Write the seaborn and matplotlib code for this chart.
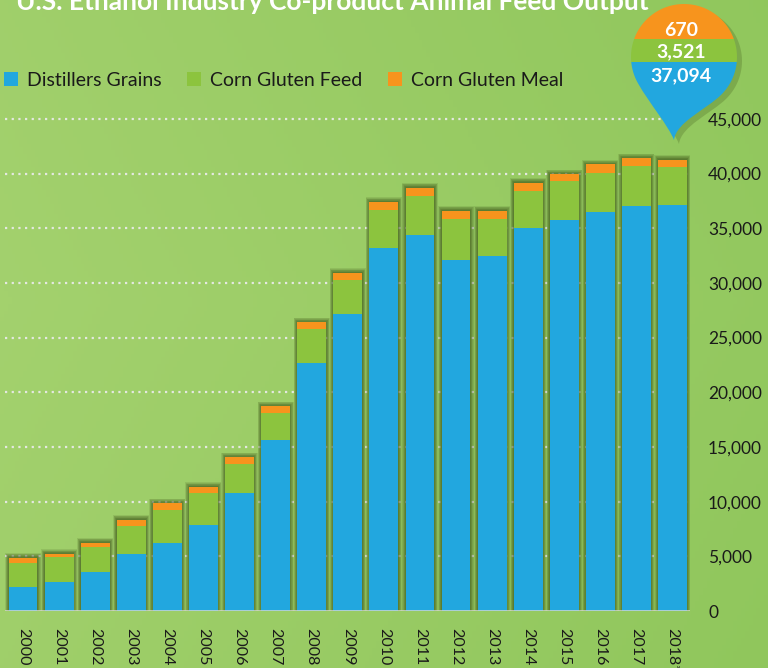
import numpy as np
import pandas as pd
import matplotlib.pyplot as plt
import seaborn as sns
from matplotlib.path import Path
from matplotlib.patches import PathPatch, Patch, Rectangle
from matplotlib.ticker import FuncFormatter

# co-product output, thousand metric tons
years = ['2000', '2001', '2002', '2003', '2004', '2005', '2006', '2007', '2008', '2009',
         '2010', '2011', '2012', '2013', '2014', '2015', '2016', '2017', '2018*']
distillers = [2200, 2660, 3550, 5200, 6240, 7890, 10760, 15600, 22660, 27160,
              33180, 34380, 32140, 32450, 35020, 35780, 36490, 37060, 37094]
gluten_feed = [2230, 2270, 2260, 2530, 3030, 2870, 2700, 2540, 3150, 3140,
               3450, 3570, 3730, 3420, 3390, 3550, 3600, 3610, 3521]
gluten_meal = [460, 300, 430, 620, 570, 590, 600, 580, 580, 620,
               770, 770, 740, 740, 760, 610, 740, 730, 670]
series = ['Distillers Grains', 'Corn Gluten Feed', 'Corn Gluten Meal']

BLUE = '#22A7DF'
GREEN = '#8CC43E'
ORANGE = '#F7941D'

sns.set_style('white')
plt.rcParams['font.family'] = ['Lato', 'DejaVu Sans']

df = pd.DataFrame({'year': years, 'dg': distillers, 'cgf': gluten_feed, 'cgm': gluten_meal})
df['feed_top'] = df['dg'] + df['cgf']
df['total'] = df['feed_top'] + df['cgm']

W, H = 768, 668
fig = plt.figure(figsize=(W / 100, H / 100), dpi=100)

# background
bg = fig.add_axes([0, 0, 1, 1], zorder=0)
gx = np.linspace(0, 1, 200)
gy = np.linspace(0, 1, 200)
X, Y = np.meshgrid(gx, gy)
light = np.array([0.64, 0.82, 0.43])
dark = np.array([0.53, 0.76, 0.33])
t = np.clip(0.55 * X + 0.25 * np.abs(Y - 0.45), 0, 1)[..., None]
bg.imshow(light * (1 - t) + dark * t, extent=[0, 1, 0, 1], aspect='auto')
bg.set_axis_off()

# main chart
ax = fig.add_axes([5 / W, 1 - 611 / H, 685 / W, 514 / H], zorder=1)
ax.patch.set_alpha(0)

yticks = list(range(0, 45001, 5000))
ax.hlines(yticks[1:], -0.5, 18.485, colors='#E4E8E0', lw=1.6,
          linestyles=(0, (1, 2)), zorder=0)

bar_kw = dict(saturation=1, edgecolor='none', linewidth=0, ax=ax)

# soft shadows around bars
for i, w in enumerate(np.linspace(1.0, 0.82, 7)):
    sns.barplot(x=df['year'], y=df['total'] + 60 * (7 - i), color='#3A5016', width=w,
                alpha=0.13, zorder=1, **bar_kw)

sns.barplot(x=df['year'], y=df['total'], color=ORANGE, width=0.8, zorder=2, **bar_kw)
sns.barplot(x=df['year'], y=df['feed_top'], color=GREEN, width=0.8, zorder=3, **bar_kw)
sns.barplot(x=df['year'], y=df['dg'], color=BLUE, width=0.8, zorder=4, **bar_kw)

ax.axhline(0, color='#D8DCD4', lw=1.8, zorder=5)
ax.set_xlim(-0.5, 18.485)
ax.set_ylim(0, 47000)
ax.set_xlabel('')
ax.set_ylabel('')
sns.despine(ax=ax, left=True, bottom=True)

ax.yaxis.tick_right()
ax.set_yticks(yticks)
ax.yaxis.set_major_formatter(FuncFormatter(lambda v, p: f'{int(v):,}'))
ax.tick_params(axis='y', length=0, pad=13, labelsize=12.5, labelcolor='#1A1A1A')
ax.tick_params(axis='x', length=0, pad=12, labelsize=11.5, labelcolor='#1A1A1A',
               labelrotation=-90)

# title (cut off at top in the original)
fig.text(16 / W, 1 - 10 / H, 'U.S. Ethanol Industry Co-product Animal Feed Output',
         color='white', fontsize=19, fontweight='bold', va='baseline', ha='left')

# legend
handles = [Patch(facecolor=c, edgecolor='none') for c in [BLUE, GREEN, ORANGE]]
fig.legend(handles, series, loc='center left', bbox_to_anchor=(0.0, 1 - 80 / H),
           ncol=3, frameon=False, fontsize=14, handlelength=0.7, handleheight=0.7,
           handletextpad=0.5, columnspacing=1.3, borderaxespad=0, borderpad=0.2,
           labelcolor='#1A1A1A')

# callout drop for the latest year
ov = fig.add_axes([0, 0, 1, 1], zorder=3)
ov.set_xlim(0, W)
ov.set_ylim(H, 0)
ov.set_axis_off()
ov.patch.set_alpha(0)

cx, cy, r = 684, 57, 53
angs = np.radians(np.linspace(45, -210, 80))
verts = [(cx + r * np.cos(a), cy + r * np.sin(a)) for a in angs]
codes = [Path.MOVETO] + [Path.LINETO] * (len(verts) - 1)
lx, ly = verts[-1]
rx, ry = verts[0]
verts += [(lx + 12, ly + 21), (668, 125), (674, 140),
          (676, 122), (rx - 15, ry + 15), (rx, ry), (rx, ry)]
codes += [Path.CURVE4] * 3 + [Path.CURVE4] * 3 + [Path.CLOSEPOLY]
drop = Path(verts, codes)

shadow = PathPatch(Path(np.array(verts) + [5, 4], codes), facecolor='#3E5518',
                   edgecolor='none', alpha=0.25)
ov.add_patch(shadow)
clip = PathPatch(drop, facecolor='none', edgecolor='none')
ov.add_patch(clip)
for y0, y1, c in [(0, 39, ORANGE), (39, 62, GREEN), (62, 145, BLUE)]:
    rect = Rectangle((620, y0), 130, y1 - y0, facecolor=c, edgecolor='none')
    ov.add_patch(rect)
    rect.set_clip_path(clip)

last = df.iloc[-1]
for yy, val in [(31, last['cgm']), (52, last['cgf']), (76, last['dg'])]:
    ov.text(681, yy, f'{int(val):,}', color='white', fontsize=14, fontweight='bold',
            ha='center', va='center')

fig.savefig('out.png', dpi=100)
